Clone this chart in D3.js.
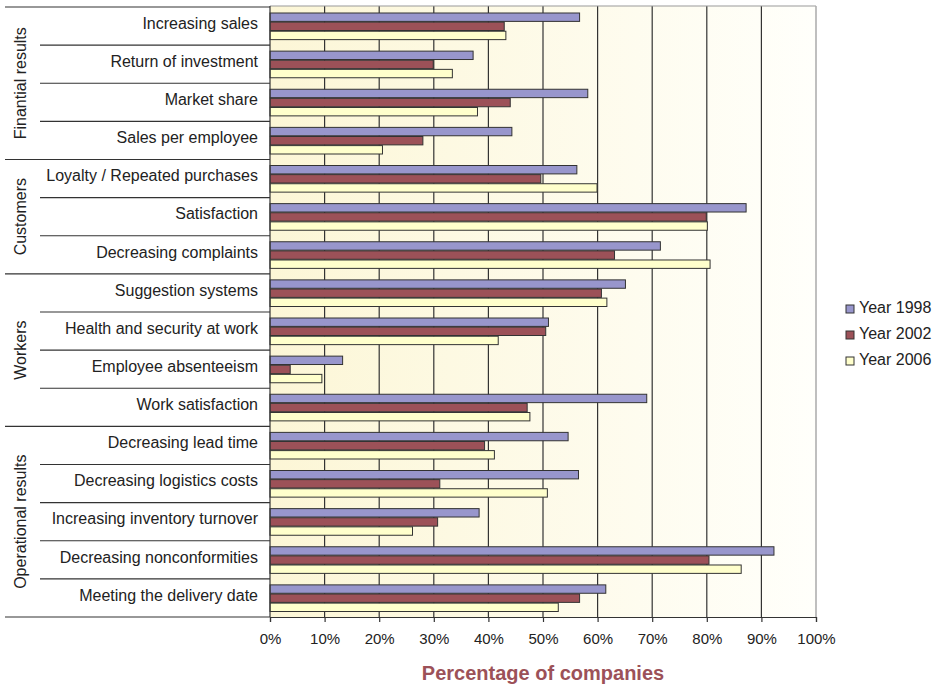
<!DOCTYPE html>
<html>
<head>
<meta charset="utf-8">
<script src="https://cdn.jsdelivr.net/npm/d3@7"></script>
<style>
  html, body { margin: 0; padding: 0; background: #fff; }
  svg { display: block; font-family: "Liberation Sans", Arial, Helvetica, sans-serif; }
</style>
</head>
<body>
<svg id="chart" width="936" height="685"></svg>
<script>
const categories = [
  "Increasing sales", "Return of investment", "Market share", "Sales per employee",
  "Loyalty / Repeated purchases", "Satisfaction", "Decreasing complaints",
  "Suggestion systems", "Health and security at work", "Employee absenteeism", "Work satisfaction",
  "Decreasing lead time", "Decreasing logistics costs", "Increasing inventory turnover",
  "Decreasing nonconformities", "Meeting the delivery date"
];
const groups = ["Finantial results", "Customers", "Workers", "Operational results"];
const groupSizes = [4, 3, 4, 5];
const seriesNames = ["Year 1998", "Year 2002", "Year 2006"];
const year1998 = [56.7, 37.2, 58.2, 44.3, 56.2, 87.2, 71.5, 65.1, 51.0, 13.3, 69.0, 54.6, 56.5, 38.3, 92.3, 61.5];
const year2002 = [42.9, 29.9, 44.0, 28.0, 49.6, 79.9, 63.1, 60.7, 50.5, 3.7, 47.1, 39.3, 31.1, 30.7, 80.4, 56.7];
const year2006 = [43.2, 33.4, 38.0, 20.6, 59.9, 80.1, 80.6, 61.7, 41.8, 9.5, 47.6, 41.1, 50.8, 26.1, 86.3, 52.8];
const tickValues = [0, 10, 20, 30, 40, 50, 60, 70, 80, 90, 100];
const colors = ["#9896cc", "#9c5158", "#ffffcc"];

const svg = d3.select("#chart");
const pLeft = 270, pRight = 816, pTop = 7, pBottom = 617;

const x = d3.scaleLinear().domain([0, 100]).range([pLeft, pRight]);
const y = d3.scaleBand().domain(categories).range([pTop, pBottom]).paddingInner(0).paddingOuter(0);
const ySub = d3.scaleBand().domain(seriesNames).range([6, y.bandwidth() - 5.5]).paddingInner(0.08).paddingOuter(0);

// background gradient
const defs = svg.append("defs");
const grad = defs.append("linearGradient").attr("id", "bg").attr("x1", "0").attr("x2", "1").attr("y1", "0").attr("y2", "0");
grad.append("stop").attr("offset", "0%").attr("stop-color", "#fcf6d6");
grad.append("stop").attr("offset", "100%").attr("stop-color", "#fffffb");

svg.append("rect")
  .attr("x", pLeft).attr("y", pTop - 1)
  .attr("width", pRight - pLeft).attr("height", pBottom - pTop + 1)
  .attr("fill", "url(#bg)");

// gridlines
svg.append("g").selectAll("line").data(tickValues.slice(1, -1)).join("line")
  .attr("x1", d => x(d)).attr("x2", d => x(d))
  .attr("y1", pTop - 1).attr("y2", pBottom)
  .attr("stroke", "#333").attr("stroke-width", 1.2);

// plot frame (top + right)
svg.append("line").attr("x1", pLeft).attr("x2", pRight).attr("y1", pTop - 1).attr("y2", pTop - 1)
  .attr("stroke", "#999").attr("stroke-width", 1);
svg.append("line").attr("x1", pRight).attr("x2", pRight).attr("y1", pTop - 1).attr("y2", pBottom)
  .attr("stroke", "#aaa").attr("stroke-width", 1.5);

// bars
const seriesData = [year1998, year2002, year2006];
seriesData.forEach((vals, si) => {
  svg.append("g").selectAll("rect").data(vals).join("rect")
    .attr("x", x(0))
    .attr("y", (d, i) => y(categories[i]) + ySub(seriesNames[si]))
    .attr("width", d => x(d) - x(0))
    .attr("height", ySub.bandwidth())
    .attr("fill", colors[si])
    .attr("stroke", "#333").attr("stroke-width", 1);
});

// x axis
const xAxis = d3.axisBottom(x).tickValues(tickValues).tickFormat(d => d + "%").tickSize(5).tickPadding(11);
const gx = svg.append("g").attr("transform", `translate(0,${pBottom})`).call(xAxis);
gx.select(".domain").attr("stroke", "#333").attr("stroke-width", 1.2);
gx.selectAll(".tick line").attr("stroke", "#333").attr("stroke-width", 1.2);
gx.selectAll(".tick text").attr("font-size", 15).attr("fill", "#222")
  .attr("font-family", "'Liberation Sans', Arial, sans-serif");

// y axis line
svg.append("line").attr("x1", pLeft).attr("x2", pLeft).attr("y1", pTop - 1).attr("y2", pBottom)
  .attr("stroke", "#333").attr("stroke-width", 1.2);

// category labels
svg.append("g").selectAll("text").data(categories).join("text")
  .attr("x", 258)
  .attr("y", d => y(d) + y.bandwidth() / 2 - 1.5)
  .attr("text-anchor", "end").attr("dominant-baseline", "middle")
  .attr("font-size", 16).attr("fill", "#222")
  .text(d => d);

// separators
let groupStarts = [];
let acc = 0;
groupSizes.forEach(s => { groupStarts.push(acc); acc += s; });
const boundaries = d3.range(categories.length + 1);
svg.append("g").selectAll("line").data(boundaries).join("line")
  .attr("x1", i => (i === 0 || i === categories.length || groupStarts.includes(i)) ? 5 : 40)
  .attr("x2", pLeft)
  .attr("y1", i => i < categories.length ? y(categories[i]) : pBottom)
  .attr("y2", i => i < categories.length ? y(categories[i]) : pBottom)
  .attr("stroke", "#333").attr("stroke-width", 1.2);

// group labels
svg.append("g").selectAll("text").data(groups).join("text")
  .attr("transform", (g, gi) => {
    const s = groupStarts[gi];
    const e = s + groupSizes[gi];
    const y0 = y(categories[s]);
    const y1 = e < categories.length ? y(categories[e]) : pBottom;
    return `translate(26,${(y0 + y1) / 2}) rotate(-90)`;
  })
  .attr("text-anchor", "middle")
  .attr("font-size", 16).attr("fill", "#222")
  .text(d => d);

// axis title
svg.append("text")
  .attr("x", (pLeft + pRight) / 2).attr("y", 680)
  .attr("text-anchor", "middle")
  .attr("font-size", 20).attr("font-weight", "bold").attr("fill", "#9c5158")
  .text("Percentage of companies");

// legend
const lg = svg.append("g").attr("transform", "translate(846,305)");
seriesNames.forEach((n, i) => {
  const row = lg.append("g").attr("transform", `translate(0,${i * 26})`);
  row.append("rect").attr("x", 0).attr("y", 0).attr("width", 8).attr("height", 8)
    .attr("fill", colors[i]).attr("stroke", "#333").attr("stroke-width", 1);
  row.append("text").attr("x", 13).attr("y", 4).attr("dominant-baseline", "middle")
    .attr("font-size", 16).attr("fill", "#222").text(n);
});
</script>
</body>
</html>
